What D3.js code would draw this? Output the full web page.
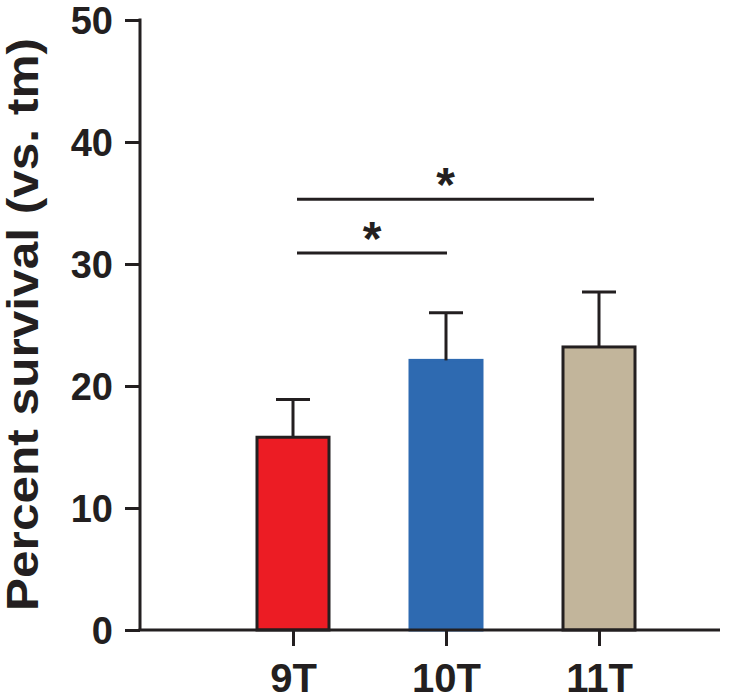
<!DOCTYPE html>
<html>
<head>
<meta charset="utf-8">
<script src="https://cdn.jsdelivr.net/npm/d3@7"></script>
<style>
  html, body { margin: 0; padding: 0; background: #fff; }
  svg { display: block; font-family: "Liberation Sans", Arial, Helvetica, sans-serif; }
</style>
</head>
<body>
<svg id="chart" width="755" height="697"></svg>
<script>
// ---- data ----
const categories = ["9T", "10T", "11T"];
const means = [15.8, 22.1, 23.2];
const upperErr = [18.9, 26.0, 27.7];
const colors = ["#ec1c24", "#2e6ab1", "#c2b59b"];
const strokes = ["#231f20", "#2e6ab1", "#231f20"];
const yTicks = [0, 10, 20, 30, 40, 50];
const yLabel = "Percent survival (vs. tm)";
const sigPairs = [["9T", "10T", 30.9], ["9T", "11T", 35.3]];
const sigLabels = ["*", "*"];

// ---- layout ----
const ink = "#231f20";
const svg = d3.select("#chart");
const y = d3.scaleLinear().domain([0, 50]).range([630, 20]);
const x = d3.scalePoint().domain(categories).range([293, 599]);
const barW = 72;
const xAxisLeft = 140, xAxisRight = 720;

// bars
svg.selectAll("rect.bar").data(categories).enter().append("rect")
  .attr("class", "bar")
  .attr("x", d => x(d) - barW / 2)
  .attr("y", (d, i) => y(means[i]))
  .attr("width", barW)
  .attr("height", (d, i) => y(0) - y(means[i]))
  .attr("fill", (d, i) => colors[i])
  .attr("stroke", (d, i) => strokes[i])
  .attr("stroke-width", 3);

// error bars (upper only)
const capW = 34;
categories.forEach((c, i) => {
  svg.append("line")
    .attr("x1", x(c)).attr("x2", x(c))
    .attr("y1", y(means[i])).attr("y2", y(upperErr[i]))
    .attr("stroke", ink).attr("stroke-width", 3);
  svg.append("line")
    .attr("x1", x(c) - capW / 2).attr("x2", x(c) + capW / 2)
    .attr("y1", y(upperErr[i])).attr("y2", y(upperErr[i]))
    .attr("stroke", ink).attr("stroke-width", 3);
});

// y axis
const yAxis = svg.append("g")
  .attr("transform", `translate(${xAxisLeft},0)`)
  .call(d3.axisLeft(y).tickValues(yTicks).tickSize(15).tickPadding(12).tickSizeOuter(0));
yAxis.select(".domain").attr("stroke", ink).attr("stroke-width", 3)
  .attr("d", `M0,${y(50) - 1.5}V${y(0)}`);
yAxis.selectAll(".tick line").attr("stroke", ink).attr("stroke-width", 3);
yAxis.selectAll(".tick text")
  .attr("fill", ink)
  .style("font-size", "38px").style("font-weight", "bold")
  .style("font-family", '"Liberation Sans", Arial, sans-serif')
  .attr("dy", "0.36em");

// x axis
const xAxis = svg.append("g")
  .attr("transform", `translate(0,${y(0)})`)
  .call(d3.axisBottom(x).tickSize(16).tickPadding(16).tickSizeOuter(0));
xAxis.select(".domain").attr("stroke", ink).attr("stroke-width", 3)
  .attr("d", `M${xAxisLeft - 1.5},0H${xAxisRight}`);
xAxis.selectAll(".tick line").attr("stroke", ink).attr("stroke-width", 3);
xAxis.selectAll(".tick text")
  .attr("fill", ink)
  .style("font-size", "40px").style("font-weight", "bold")
  .style("font-family", '"Liberation Sans", Arial, sans-serif')
  .attr("y", 62).attr("dy", 0);

// y label
svg.append("text")
  .attr("transform", `translate(38,${(38 + 611) / 2}) rotate(-90)`)
  .attr("text-anchor", "middle")
  .attr("fill", ink)
  .attr("textLength", 573)
  .attr("lengthAdjust", "spacingAndGlyphs")
  .style("font-size", "44px").style("font-weight", "bold")
  .text(yLabel);

// significance lines
sigPairs.forEach((p, i) => {
  const x1 = x(p[0]) + 4, x2 = x(p[1]) - (p[1] === "11T" ? 5 : -1);
  const yy = y(p[2]);
  svg.append("line")
    .attr("x1", x1).attr("x2", x2).attr("y1", yy).attr("y2", yy)
    .attr("stroke", ink).attr("stroke-width", 3);
  svg.append("text")
    .attr("x", (x1 + x2) / 2).attr("y", yy + 2)
    .attr("text-anchor", "middle")
    .attr("fill", ink)
    .style("font-size", "48px").style("font-weight", "bold")
    .text(sigLabels[i]);
});
</script>
</body>
</html>
